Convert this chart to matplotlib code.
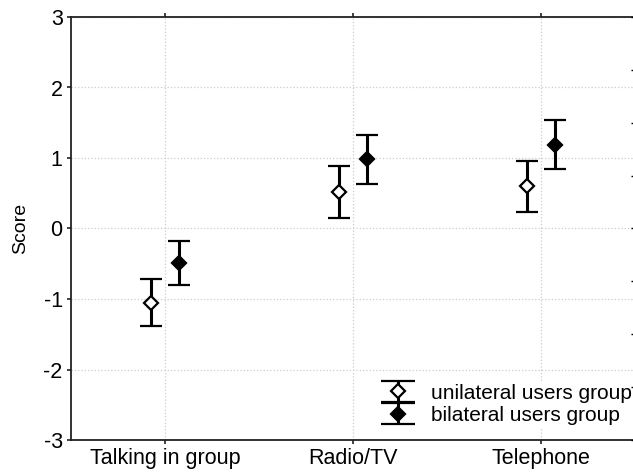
import numpy as np
import matplotlib
matplotlib.use("Agg")
import matplotlib.pyplot as plt

categories = ["Talking in group", "Radio/TV", "Telephone"]
uni_mean = [-1.05, 0.52, 0.60]
uni_err = [0.34, 0.37, 0.36]
bi_mean = [-0.49, 0.98, 1.19]
bi_err = [0.31, 0.35, 0.345]

plt.rcParams['font.family'] = ['Liberation Sans', 'DejaVu Sans']

fig = plt.figure(figsize=(6.33, 4.72), dpi=100)
ax = fig.add_axes([71 / 633, 32 / 472, 564 / 633, 423 / 472])

x = np.arange(len(categories))
off = 0.075
eb = dict(color='black', ecolor='black', elinewidth=2.2, capthick=2.2,
          linestyle='none', marker='D', markersize=7, markeredgewidth=1.6)
ax.errorbar(x - off, uni_mean, yerr=uni_err, capsize=8, markerfacecolor='white',
            markeredgecolor='black', **eb)
ax.errorbar(x + off, bi_mean, yerr=bi_err, capsize=8, markerfacecolor='black',
            markeredgecolor='black', **eb)

# legend proxies with wider caps, as in the original
h_uni = ax.errorbar([np.nan], [np.nan], yerr=[1], capsize=12, markerfacecolor='white',
                    markeredgecolor='black', label='unilateral users group', **eb)
h_bi = ax.errorbar([np.nan], [np.nan], yerr=[1], capsize=12, markerfacecolor='black',
                   markeredgecolor='black', label='bilateral users group', **eb)

ax.set_xlim(-0.5, 2.5)
ax.set_ylim(-3, 3)
ax.set_xticks(x)
ax.set_xticklabels(categories, fontsize=15.5)
ax.set_yticks(np.arange(-3, 4, 1))
ax.set_yticklabels([str(v) for v in range(-3, 4)], fontsize=15.5)
ax.set_ylabel("Score", fontsize=14, labelpad=10)

ax.grid(True, color='#cccccc', linestyle=':', linewidth=0.9)
ax.set_axisbelow(True)
for s in ['left', 'top', 'bottom']:
    ax.spines[s].set_linewidth(1.3)
    ax.spines[s].set_color('#222222')
ax.spines['right'].set_visible(False)
ax.tick_params(axis='both', length=3, width=1.2, colors='#222222', labelcolor='black', pad=3)
ax.tick_params(axis='x', top=True, direction='out', pad=3)

# secondary right ticks (spine lies just outside the image)
ax2 = ax.twinx()
ax2.set_ylim(-3, 3)
ax2.set_yticks(np.arange(-3, 3.01, 0.75))
ax2.tick_params(axis='y', direction='in', length=3, width=1, labelright=False)
for s in ax2.spines.values():
    s.set_visible(False)

leg = ax.legend(handles=[h_uni, h_bi], loc='lower left',
                bbox_to_anchor=(370 / 633, 44 / 472),
                bbox_transform=fig.transFigure, fontsize=15, frameon=True,
                facecolor='white', edgecolor='none', framealpha=1,
                handlelength=2.4, handletextpad=0.4, labelspacing=0.15,
                borderpad=0.15, borderaxespad=0)
leg.set_zorder(5)

fig.savefig("out.png", dpi=100)
